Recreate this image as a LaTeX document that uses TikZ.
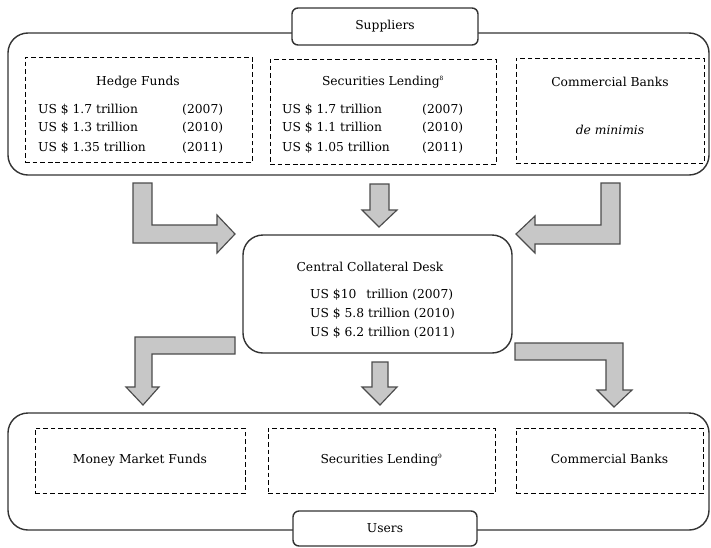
\documentclass[tikz,border=0pt]{standalone}
\usepackage{fontspec}
\setmainfont{DejaVu Serif}

\tikzset{
  every node/.style={font=\fontsize{10.5}{12}\selectfont},
  group/.style={draw=black!80,line width=1.2pt,rounded corners=0.6cm},
  tab/.style={draw=black!80,fill=white,line width=1.2pt,rounded corners=0.18cm},
  dashbox/.style={draw,thick,dash pattern=on 4pt off 2.5pt,text depth=0.6ex},
  blockarrow/.style={draw=black!70,fill=black!22,line width=1pt,line join=miter},
  row/.style={anchor=west,inner sep=0pt}
}

\begin{document}
\begin{tikzpicture}[x=0.03cm,y=-0.03cm]
  \useasboundingbox (0,0) rectangle (711,547);

  \node[group,minimum width=21.03cm,minimum height=4.26cm] (supp) at (358.5,104) {};
  \node[tab,minimum width=5.58cm,minimum height=1.11cm] (supptab) at (385,26.5) {Suppliers};
  \node[dashbox,minimum width=6.81cm,minimum height=3.15cm] (hedge) at (138.5,109.5) {};
  \node[dashbox,minimum width=6.78cm,minimum height=3.15cm] (seclend) at (383,111.5) {};
  \node[dashbox,minimum width=5.64cm,minimum height=3.15cm] (banks) at (610,110.5) {};

  \node (hedgetitle) at (138,82) {Hedge Funds};
  \foreach \y/\amt/\yr in {110/1.7/2007,128/1.3/2010,148/1.35/2011} {
    \node[row] at (38,\y) {US \$ \amt\ trillion};
    \node[row] at (182,\y) {(\yr)};
  }
  \node (seclendtitle) at (383,82) {Securities Lending\textsuperscript{\tiny 8}};
  \foreach \y/\amt/\yr in {110/1.7/2007,128/1.1/2010,148/1.05/2011} {
    \node[row] at (282,\y) {US \$ \amt\ trillion};
    \node[row] at (422,\y) {(\yr)};
  }
  \node (bankstitle) at (610,82) {Commercial Banks};
  \node (minimis) at (610,130) {\textit{de minimis}};

  \node[group,minimum width=8.07cm,minimum height=3.54cm] (desk) at (377.5,294) {};
  \node (desktitle) at (370,267) {Central Collateral Desk};
  \node[row] (r1) at (310,295) {US \$10\enspace\ trillion (2007)};
  \node[row] (r2) at (310,314) {US \$ 5.8 trillion (2010)};
  \node[row] (r3) at (310,333) {US \$ 6.2 trillion (2011)};

  \node[group,minimum width=21.03cm,minimum height=3.51cm] (users) at (358.5,471.5) {};
  \node[tab,minimum width=5.52cm,minimum height=1.05cm] (userstab) at (385,528.5) {Users};
  \node[dashbox,minimum width=6.3cm,minimum height=1.95cm] (mmf) at (140,460.5) {Money Market Funds};
  \node[dashbox,minimum width=6.81cm,minimum height=1.95cm] (seclend2) at (381.5,460.5) {Securities Lending\textsuperscript{\tiny 9}};
  \node[dashbox,minimum width=5.61cm,minimum height=1.95cm] (banks2) at (609.5,460.5) {Commercial Banks};

  \draw[blockarrow] (133,183) -- (152,183) -- (152,225) -- (217,225) -- (217,215) -- (235,234)
    -- (217,253) -- (217,243) -- (133,243) -- cycle;
  \draw[blockarrow] (370,184) -- (389,184) -- (389,210) -- (397,210) -- (379,227) -- (362,210)
    -- (370,210) -- cycle;
  \draw[blockarrow] (601,183) -- (620,183) -- (620,244) -- (535,244) -- (535,253) -- (516,234)
    -- (535,216) -- (535,225) -- (601,225) -- cycle;
  \draw[blockarrow] (235,337) -- (235,354) -- (152,354) -- (152,387) -- (159,387) -- (143,405)
    -- (126,387) -- (135,387) -- (135,337) -- cycle;
  \draw[blockarrow] (372,362) -- (388,362) -- (388,387) -- (397,387) -- (380,405) -- (362,387)
    -- (372,387) -- cycle;
  \draw[blockarrow] (515,343) -- (623,343) -- (623,390) -- (632,390) -- (614,407) -- (597,390)
    -- (606,390) -- (606,360) -- (515,360) -- cycle;
\end{tikzpicture}
\end{document}
